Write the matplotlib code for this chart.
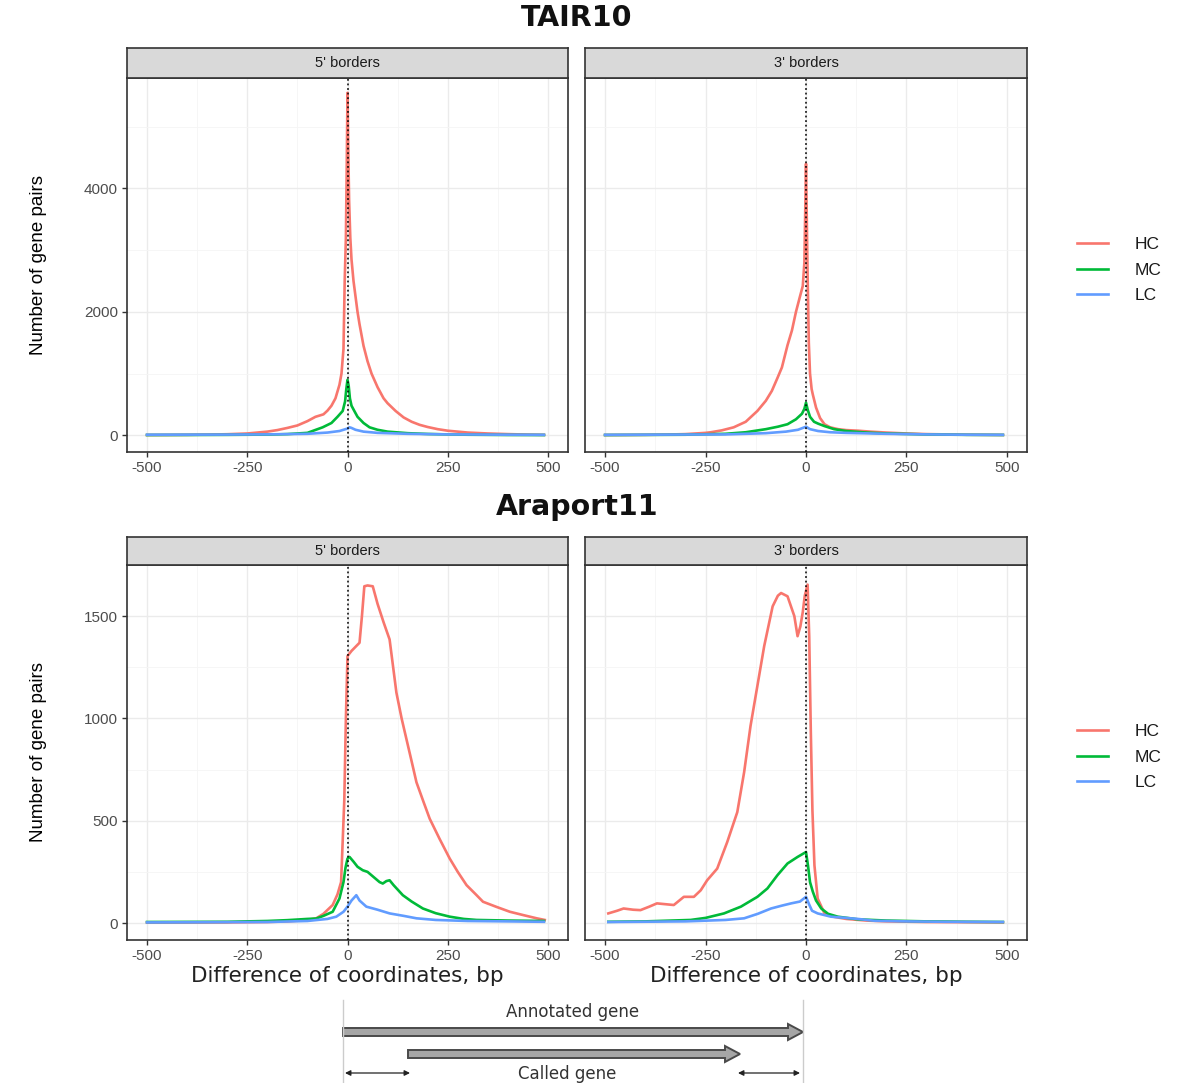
import matplotlib
matplotlib.use("Agg")
import matplotlib.pyplot as plt
from matplotlib.lines import Line2D
from matplotlib.patches import FancyArrow
import numpy as np

# ---------------- data ----------------
series_names = ["HC", "MC", "LC"]
series_colors = ["#F8766D", "#00BA38", "#619CFF"]
facet_labels = ["5' borders", "3' borders"]
row_titles = ["TAIR10", "Araport11"]
x_ticks = [-500, -250, 0, 250, 500]
y_ticks_tair = [0, 2000, 4000]
y_ticks_ara = [0, 500, 1000, 1500]

# TAIR10, 5' borders
tair5_hc_x = [-500, -450, -400, -350, -300, -250, -200, -175, -150, -125, -100, -80, -60, -50, -40, -30, -20, -15, -10, -7, -4, -2, 0,
              2, 4, 7, 10, 15, 20, 25, 30, 40, 50, 60, 75, 90, 100, 120, 140, 160, 180, 200, 225, 250, 300, 350, 400, 450, 490]
tair5_hc_y = [5, 6, 8, 12, 18, 30, 60, 85, 120, 160, 230, 300, 340, 400, 480, 600, 820, 1000, 1400, 2500, 3200, 4300, 5550,
              4600, 3800, 3200, 2850, 2500, 2250, 2000, 1800, 1450, 1200, 1000, 780, 600, 520, 395, 290, 220, 170, 135, 100, 75, 45, 30, 20, 12, 8]
tair5_mc_x = [-500, -400, -300, -200, -150, -100, -62, -40, -25, -12, -6, -3, 0, 3, 6, 10, 17, 25, 40, 55, 75, 100, 150, 200, 250, 300, 400, 490]
tair5_mc_y = [5, 6, 8, 12, 20, 40, 130, 200, 300, 395, 550, 750, 900, 800, 600, 480, 395, 300, 200, 130, 90, 60, 35, 22, 15, 10, 6, 5]
tair5_lc_x = [-500, -300, -200, -100, -50, -20, 0, 5, 10, 20, 40, 75, 150, 250, 400, 490]
tair5_lc_y = [10, 12, 15, 25, 45, 70, 110, 130, 120, 90, 60, 40, 25, 15, 10, 8]

# TAIR10, 3' borders
tair3_hc_x = [-500, -450, -400, -350, -300, -250, -237, -210, -180, -150, -121, -100, -85, -71, -60, -46, -35, -25, -15, -8, -4, -2, 0,
              2, 4, 7, 10, 14, 17, 25, 35, 46, 60, 80, 100, 130, 160, 200, 250, 300, 350, 400, 450, 490]
tair3_hc_y = [5, 6, 8, 12, 20, 40, 50, 80, 130, 220, 395, 560, 720, 930, 1100, 1460, 1700, 2000, 2250, 2420, 2800, 3600, 4400,
              3500, 2600, 1500, 1000, 750, 660, 450, 280, 180, 130, 100, 85, 75, 60, 45, 30, 20, 15, 10, 8, 6]
tair3_mc_x = [-500, -400, -300, -200, -150, -100, -70, -46, -25, -10, -4, 0, 4, 10, 20, 30, 46, 70, 100, 150, 200, 300, 400, 490]
tair3_mc_y = [5, 7, 10, 25, 50, 100, 140, 180, 260, 350, 430, 530, 420, 300, 220, 190, 150, 100, 70, 45, 30, 15, 8, 6]
tair3_lc_x = [-500, -200, -100, -50, -20, 0, 10, 30, 60, 100, 200, 300, 400, 490]
tair3_lc_y = [8, 15, 35, 60, 90, 140, 100, 70, 50, 40, 25, 15, 10, 8]

# Araport11, 5' borders
ara5_hc_x = [-500, -300, -200, -150, -120, -100, -78, -60, -37, -25, -16, -8, -4, 0, 10, 22, 30, 36, 42, 50, 63, 75, 90, 105, 122,
             135, 147, 160, 172, 190, 205, 230, 255, 275, 297, 320, 338, 370, 405, 440, 472, 492]
ara5_hc_y = [2, 3, 5, 8, 12, 15, 23, 45, 88, 140, 200, 600, 1000, 1305, 1330, 1354, 1370, 1500, 1646, 1650, 1646, 1560, 1470, 1386, 1126,
             1000, 899, 790, 688, 590, 510, 410, 315, 250, 185, 140, 104, 80, 55, 38, 23, 15]
ara5_mc_x = [-500, -300, -200, -150, -100, -78, -60, -37, -20, -10, -5, 0, 5, 15, 25, 38, 50, 65, 80, 88, 97, 105, 115, 138, 160, 188,
             220, 255, 290, 322, 400, 490]
ara5_mc_y = [5, 6, 10, 14, 20, 22, 35, 55, 120, 200, 270, 315, 323, 300, 275, 258, 250, 225, 200, 193, 205, 209, 185, 136, 105, 71,
             48, 31, 20, 15, 12, 10]
ara5_lc_x = [-500, -200, -100, -50, -28, -10, 0, 10, 22, 30, 47, 75, 105, 140, 172, 220, 300, 400, 490]
ara5_lc_y = [3, 5, 10, 20, 31, 55, 80, 110, 136, 110, 80, 65, 47, 35, 23, 15, 10, 8, 6]

# Araport11, 3' borders
ara3_hc_x = [-492, -470, -454, -430, -412, -390, -371, -350, -329, -304, -279, -262, -246, -221, -196, -171, -154, -138, -121, -104,
             -83, -70, -62, -46, -29, -21, -14, -8, -3, 4, 8, 12, 16, 21, 29, 46, 70, 100, 150, 200, 300, 400, 490]
ara3_hc_y = [47, 60, 71, 65, 63, 80, 96, 92, 88, 128, 128, 160, 209, 266, 396, 542, 737, 964, 1159, 1354,
             1548, 1600, 1613, 1597, 1500, 1402, 1450, 1520, 1600, 1654, 1400, 932, 550, 282, 120, 47, 30, 20, 12, 8, 5, 4, 3]
ara3_mc_x = [-492, -400, -287, -250, -204, -162, -121, -96, -71, -46, -21, 0, 5, 10, 17, 25, 38, 55, 79, 129, 200, 300, 400, 490]
ara3_mc_y = [6, 8, 15, 25, 47, 80, 128, 169, 234, 291, 323, 347, 280, 200, 153, 110, 71, 45, 31, 18, 12, 8, 6, 5]
ara3_lc_x = [-492, -300, -200, -154, -120, -87, -60, -37, -15, 0, 8, 15, 29, 62, 100, 129, 171, 250, 350, 490]
ara3_lc_y = [5, 8, 15, 23, 45, 71, 85, 96, 105, 128, 90, 60, 47, 31, 25, 20, 11, 8, 6, 5]

panels = [
    [[(tair5_hc_x, tair5_hc_y), (tair5_mc_x, tair5_mc_y), (tair5_lc_x, tair5_lc_y)],
     [(tair3_hc_x, tair3_hc_y), (tair3_mc_x, tair3_mc_y), (tair3_lc_x, tair3_lc_y)]],
    [[(ara5_hc_x, ara5_hc_y), (ara5_mc_x, ara5_mc_y), (ara5_lc_x, ara5_lc_y)],
     [(ara3_hc_x, ara3_hc_y), (ara3_mc_x, ara3_mc_y), (ara3_lc_x, ara3_lc_y)]],
]
row_yticks = [y_ticks_tair, y_ticks_ara]
row_ylim = [(-270, 5790), (-83, 1735)]

# ---------------- figure ----------------
W, H = 1199, 1083
fig = plt.figure(figsize=(W / 100, H / 100), dpi=100)
fig.patch.set_facecolor("white")

def fx(px):
    return px / W

def fy(py):
    return 1 - py / H

col_x = [(127, 568), (585, 1027)]
row_geom = [  # strip top, panel top, panel bottom
    (48, 78, 452),
    (537, 565, 940),
]
tick_font = dict(family="Liberation Sans", size=11, color="#4D4D4D")
border_col = "#333333"

for r in range(2):
    s_top, p_top, p_bot = row_geom[r]
    for c in range(2):
        x0, x1 = col_x[c]
        ax = fig.add_axes([fx(x0), fy(p_bot), fx(x1 - x0), (p_bot - p_top) / H])
        ax.set_xlim(-550, 550)
        ax.set_ylim(*row_ylim[r])
        ax.set_xticks(x_ticks)
        ax.set_xticks([-375, -125, 125, 375], minor=True)
        yt = row_yticks[r]
        ax.set_yticks(yt)
        step = yt[1] - yt[0]
        ax.set_yticks([v + step / 2 for v in yt], minor=True)
        ax.grid(True, which="major", color="#EBEBEB", lw=1.0)
        ax.grid(True, which="minor", color="#F5F5F5", lw=0.6)
        ax.set_axisbelow(True)
        ax.tick_params(which="major", length=3.5, width=1, color=border_col, pad=3)
        ax.tick_params(which="minor", length=0)
        ax.set_xticklabels([str(v) for v in x_ticks], fontdict=tick_font)
        if c == 0:
            ax.set_yticklabels([str(v) for v in yt], fontdict=tick_font)
        else:
            ax.set_yticklabels([])
            ax.tick_params(axis="y", length=0)
        for sp in ax.spines.values():
            sp.set_color(border_col)
            sp.set_linewidth(1.2)
        for (xs, ys), col, nm in zip(panels[r][c], series_colors, series_names):
            ax.plot(xs, ys, color=col, lw=1.9, label=nm, solid_joinstyle="round")
        ax.axvline(0, color="black", lw=1.1, ls=(0, (1.2, 1.8)), zorder=5)
        if c == 0:
            ax.set_ylabel("Number of gene pairs", fontsize=13.5, family="Liberation Sans",
                          color="black")
            ax.yaxis.set_label_coords((47 - x0) / (x1 - x0), 0.5)
        if r == 1:
            ax.set_xlabel("Difference of coordinates, bp", fontsize=15.5, family="DejaVu Sans",
                          color="#222222", labelpad=2)
        # strip
        sax = fig.add_axes([fx(x0), fy(p_top), fx(x1 - x0), (p_top - s_top) / H])
        sax.set_facecolor("#D9D9D9")
        sax.set_xticks([])
        sax.set_yticks([])
        for sp in sax.spines.values():
            sp.set_color(border_col)
            sp.set_linewidth(1.2)
        sax.text(0.5, 0.5, facet_labels[c], ha="center", va="center", fontsize=10.5,
                 family="Liberation Sans", color="#1A1A1A", transform=sax.transAxes)
    # legend
    handles = [Line2D([], [], color=col, lw=1.9) for col in series_colors]
    fig.legend(handles, series_names, loc="center left",
               bbox_to_anchor=(fx(1077), fy([270, 757][r])), frameon=False,
               prop=dict(family="Liberation Sans", size=12.5), handlelength=1.8,
               handletextpad=1.5, labelspacing=0.6, borderpad=0, borderaxespad=0,
               labelcolor="#1A1A1A")
    fig.text(fx(577), fy([18, 507][r]), row_titles[r], ha="center", va="center",
             fontsize=20.5, family="DejaVu Sans", weight="bold", color="#111111")

# ---------------- schematic ----------------
dax = fig.add_axes([0, 0, 1, 1], zorder=10)
dax.set_xlim(0, W)
dax.set_ylim(H, 0)
dax.axis("off")
dax.patch.set_alpha(0)

guide_x = [343, 803]
for gx in guide_x:
    dax.plot([gx, gx], [1000, 1083], color="#CCCCCC", lw=1.0)

arrows = [  # x start, x end, y
    (343, 803, 1032),
    (408, 740, 1054),
]
for xs, xe, yy in arrows:
    dax.add_patch(FancyArrow(xs, yy, xe - xs, 0, width=8, head_width=16, head_length=15,
                             length_includes_head=True, facecolor="#A6A6A6",
                             edgecolor="#4A4A4A", lw=1.4))
for xa, xb in [(345, 410), (738, 800)]:
    dax.annotate("", xy=(xb, 1073), xytext=(xa, 1073),
                 arrowprops=dict(arrowstyle="<|-|>", color="#222222", lw=0.9,
                                 mutation_scale=8, shrinkA=0, shrinkB=0))
dax.text(573, 1012, "Annotated gene", ha="center", va="center", fontsize=12,
         family="DejaVu Sans", color="#333333")
dax.text(567, 1074, "Called gene", ha="center", va="center", fontsize=12,
         family="DejaVu Sans", color="#333333")

fig.savefig("out.png", dpi=100, facecolor="white")
